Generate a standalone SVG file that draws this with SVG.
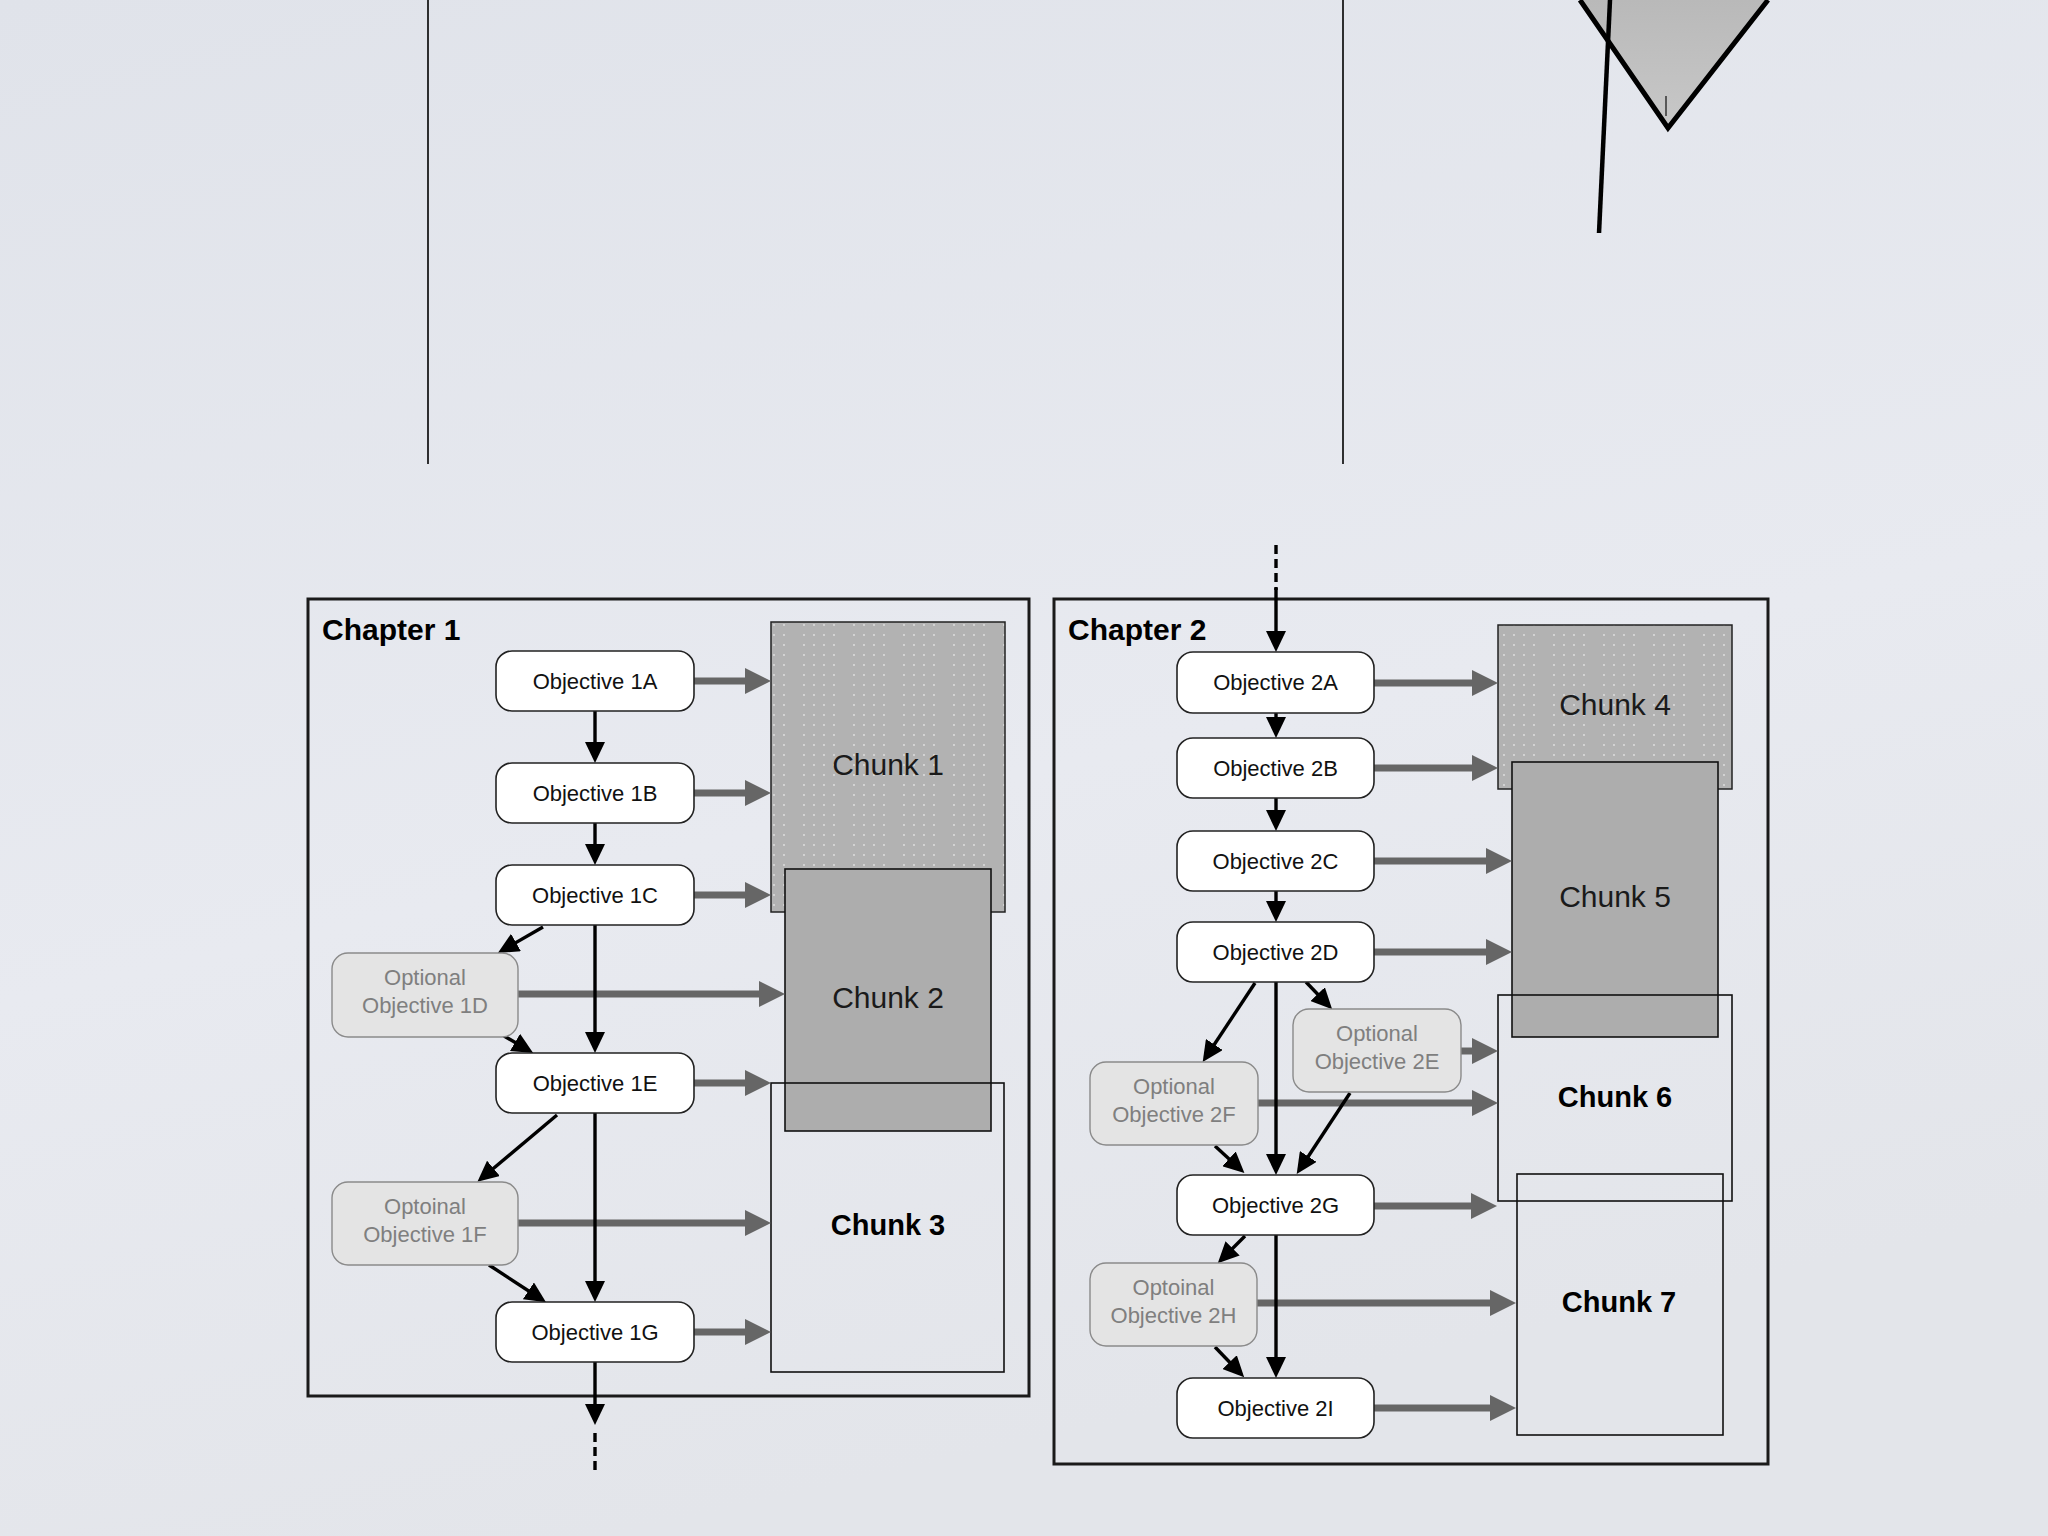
<svg xmlns="http://www.w3.org/2000/svg" width="2048" height="1536" viewBox="0 0 2048 1536">
<defs>
<linearGradient id="bg" x1="0" y1="0" x2="0.3" y2="1">
<stop offset="0" stop-color="#e0e3ea"/>
<stop offset="0.6" stop-color="#e8eaf0"/>
<stop offset="1" stop-color="#e3e5ea"/>
</linearGradient>
<linearGradient id="vfill" x1="0" y1="0" x2="0" y2="1">
<stop offset="0" stop-color="#b9b9b9"/>
<stop offset="1" stop-color="#c8c8c8"/>
</linearGradient>
<pattern id="dots" x="0" y="0" width="50" height="10" patternUnits="userSpaceOnUse">
<rect width="50" height="10" fill="#b2b2b2"/>
<circle cx="4" cy="5" r="0.9" fill="#e2e2e2"/>
<circle cx="14" cy="5" r="0.9" fill="#e2e2e2"/>
<circle cx="24" cy="5" r="0.9" fill="#e2e2e2"/>
<circle cx="34" cy="5" r="0.9" fill="#e2e2e2"/>
</pattern>
<marker id="ga" markerUnits="userSpaceOnUse" markerWidth="26" markerHeight="26" refX="16" refY="13" orient="auto">
<path d="M0,0 L26,13 L0,26 z" fill="#666666"/>
</marker>
<marker id="ba" markerUnits="userSpaceOnUse" markerWidth="21" markerHeight="20" refX="15" refY="10" orient="auto">
<path d="M0,0 L21,10 L0,20 z" fill="#000000"/>
</marker>
</defs>
<style>
.frame{fill:none;stroke:#1a1a1a;stroke-width:3}
.obj{fill:#ffffff;stroke:#222;stroke-width:1.6}
.opt{fill:#e4e4e4;stroke:#8a8a8a;stroke-width:1.4}
.t{font-family:"Liberation Sans",Arial,sans-serif;font-size:22px;fill:#111;text-anchor:middle}
.to{font-family:"Liberation Sans",Arial,sans-serif;font-size:22px;fill:#7f7f7f;text-anchor:middle}
.ch{font-family:"Liberation Sans",Arial,sans-serif;font-size:30px;font-weight:bold;fill:#000}
.ck{font-family:"Liberation Sans",Arial,sans-serif;font-size:30px;fill:#1a1a1a;text-anchor:middle}
.ckb{font-family:"Liberation Sans",Arial,sans-serif;font-size:29px;font-weight:bold;fill:#000;text-anchor:middle}
.chunkd{fill:url(#dots);stroke:#222;stroke-width:1.5}
.chunks{fill:#adadad;stroke:#111;stroke-width:1.6}
.chunko{fill:none;stroke:#111;stroke-width:1.6}
.g{stroke:#666666;stroke-width:7;fill:none;marker-end:url(#ga)}
.b{stroke:#000;stroke-width:3.4;fill:none;marker-end:url(#ba)}
.bd{stroke:#000;stroke-width:3.4;fill:none;stroke-dasharray:9 5}
</style>
<rect width="2048" height="1536" fill="url(#bg)"/>

<g id="top-shapes">
<line x1="428" y1="0" x2="428" y2="464" stroke="#000" stroke-width="1.6"/>
<line x1="1343" y1="0" x2="1343" y2="464" stroke="#000" stroke-width="1.6"/>
<polygon points="1580,0 1768,0 1668,130" fill="url(#vfill)"/>
<polyline points="1580,0 1668,128 1768,0" fill="none" stroke="#000" stroke-width="5"/>
<line x1="1666" y1="96" x2="1666" y2="116" stroke="#333" stroke-width="1.5"/>
<line x1="1610" y1="0" x2="1599" y2="233" stroke="#000" stroke-width="4.5"/>
</g>

<g id="chapter1">
<rect x="308" y="599" width="721" height="797" class="frame"/>
<text x="322" y="640" class="ch">Chapter 1</text>
</g>
<g id="chapter2">
<rect x="1054" y="599" width="714" height="865" class="frame"/>
<text x="1068" y="640" class="ch">Chapter 2</text>
</g>

<g id="chunk1"><rect x="771" y="622" width="234" height="290" class="chunkd"/><text x="888" y="775" class="ck">Chunk 1</text></g>
<g id="chunk2"><rect x="785" y="869" width="206" height="262" class="chunks"/><text x="888" y="1008" class="ck">Chunk 2</text></g>
<g id="chunk3"><rect x="771" y="1083" width="233" height="289" class="chunko"/><text x="888" y="1235" class="ckb">Chunk 3</text></g>
<g id="chunk4"><rect x="1498" y="625" width="234" height="164" class="chunkd"/><text x="1615" y="715" class="ck">Chunk 4</text></g>
<g id="chunk5"><rect x="1512" y="762" width="206" height="275" class="chunks"/><text x="1615" y="907" class="ck">Chunk 5</text></g>
<g id="chunk6"><rect x="1498" y="995" width="234" height="206" class="chunko"/><text x="1615" y="1107" class="ckb">Chunk 6</text></g>
<g id="chunk7"><rect x="1517" y="1174" width="206" height="261" class="chunko"/><text x="1619" y="1312" class="ckb">Chunk 7</text></g>

<g id="connectors">
<line x1="694" y1="681" x2="761" y2="681" class="g"/>
<line x1="694" y1="793" x2="761" y2="793" class="g"/>
<line x1="694" y1="895" x2="761" y2="895" class="g"/>
<line x1="518" y1="994" x2="775" y2="994" class="g"/>
<line x1="694" y1="1083" x2="761" y2="1083" class="g"/>
<line x1="518" y1="1223" x2="761" y2="1223" class="g"/>
<line x1="694" y1="1332" x2="761" y2="1332" class="g"/>
<line x1="1374" y1="683" x2="1488" y2="683" class="g"/>
<line x1="1374" y1="768" x2="1488" y2="768" class="g"/>
<line x1="1374" y1="861" x2="1502" y2="861" class="g"/>
<line x1="1374" y1="952" x2="1502" y2="952" class="g"/>
<line x1="1461" y1="1051" x2="1488" y2="1051" class="g"/>
<line x1="1258" y1="1103" x2="1488" y2="1103" class="g"/>
<line x1="1374" y1="1206" x2="1487" y2="1206" class="g"/>
<line x1="1257" y1="1303" x2="1506" y2="1303" class="g"/>
<line x1="1374" y1="1408" x2="1506" y2="1408" class="g"/>

<line x1="595" y1="711" x2="595" y2="757" class="b"/>
<line x1="595" y1="823" x2="595" y2="859" class="b"/>
<line x1="595" y1="925" x2="595" y2="1047" class="b"/>
<line x1="595" y1="1113" x2="595" y2="1296" class="b"/>
<line x1="595" y1="1362" x2="595" y2="1419" class="b"/>
<line x1="595" y1="1433" x2="595" y2="1470" class="bd"/>
<line x1="543" y1="927" x2="503" y2="950" class="b"/>
<line x1="504" y1="1036" x2="528" y2="1050" class="b"/>
<line x1="557" y1="1115" x2="482" y2="1178" class="b"/>
<line x1="489" y1="1265" x2="541" y2="1299" class="b"/>

<line x1="1276" y1="545" x2="1276" y2="590" class="bd"/>
<line x1="1276" y1="588" x2="1276" y2="646" class="b"/>
<line x1="1276" y1="713" x2="1276" y2="732" class="b"/>
<line x1="1276" y1="798" x2="1276" y2="825" class="b"/>
<line x1="1276" y1="891" x2="1276" y2="916" class="b"/>
<line x1="1276" y1="982" x2="1276" y2="1169" class="b"/>
<line x1="1276" y1="1235" x2="1276" y2="1372" class="b"/>
<line x1="1255" y1="983" x2="1206" y2="1057" class="b"/>
<line x1="1306" y1="982" x2="1328" y2="1005" class="b"/>
<line x1="1350" y1="1093" x2="1300" y2="1169" class="b"/>
<line x1="1215" y1="1146" x2="1240" y2="1169" class="b"/>
<line x1="1245" y1="1236" x2="1222" y2="1259" class="b"/>
<line x1="1215" y1="1347" x2="1240" y2="1373" class="b"/>
</g>

<g id="obj1A"><rect x="496" y="651" width="198" height="60" rx="16" class="obj"/><text x="595" y="689" class="t">Objective 1A</text></g>
<g id="obj1B"><rect x="496" y="763" width="198" height="60" rx="16" class="obj"/><text x="595" y="801" class="t">Objective 1B</text></g>
<g id="obj1C"><rect x="496" y="865" width="198" height="60" rx="16" class="obj"/><text x="595" y="903" class="t">Objective 1C</text></g>
<g id="opt1D"><rect x="332" y="953" width="186" height="84" rx="16" class="opt"/><text x="425" y="985" class="to">Optional</text><text x="425" y="1013" class="to">Objective 1D</text></g>
<g id="obj1E"><rect x="496" y="1053" width="198" height="60" rx="16" class="obj"/><text x="595" y="1091" class="t">Objective 1E</text></g>
<g id="opt1F"><rect x="332" y="1182" width="186" height="83" rx="16" class="opt"/><text x="425" y="1214" class="to">Optoinal</text><text x="425" y="1242" class="to">Objective 1F</text></g>
<g id="obj1G"><rect x="496" y="1302" width="198" height="60" rx="16" class="obj"/><text x="595" y="1340" class="t">Objective 1G</text></g>

<g id="obj2A"><rect x="1177" y="652" width="197" height="61" rx="16" class="obj"/><text x="1275.5" y="690" class="t">Objective 2A</text></g>
<g id="obj2B"><rect x="1177" y="738" width="197" height="60" rx="16" class="obj"/><text x="1275.5" y="776" class="t">Objective 2B</text></g>
<g id="obj2C"><rect x="1177" y="831" width="197" height="60" rx="16" class="obj"/><text x="1275.5" y="869" class="t">Objective 2C</text></g>
<g id="obj2D"><rect x="1177" y="922" width="197" height="60" rx="16" class="obj"/><text x="1275.5" y="960" class="t">Objective 2D</text></g>
<g id="opt2E"><rect x="1293" y="1009" width="168" height="83" rx="16" class="opt"/><text x="1377" y="1041" class="to">Optional</text><text x="1377" y="1069" class="to">Objective 2E</text></g>
<g id="opt2F"><rect x="1090" y="1062" width="168" height="83" rx="16" class="opt"/><text x="1174" y="1094" class="to">Optional</text><text x="1174" y="1122" class="to">Objective 2F</text></g>
<g id="obj2G"><rect x="1177" y="1175" width="197" height="60" rx="16" class="obj"/><text x="1275.5" y="1213" class="t">Objective 2G</text></g>
<g id="opt2H"><rect x="1090" y="1263" width="167" height="83" rx="16" class="opt"/><text x="1173.5" y="1295" class="to">Optoinal</text><text x="1173.5" y="1323" class="to">Objective 2H</text></g>
<g id="obj2I"><rect x="1177" y="1378" width="197" height="60" rx="16" class="obj"/><text x="1275.5" y="1416" class="t">Objective 2I</text></g>
</svg>
